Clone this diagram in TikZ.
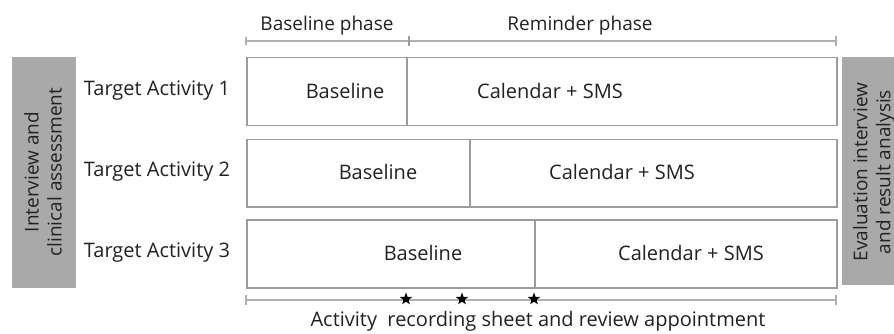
\documentclass[tikz,border=0pt]{standalone}
\usepackage{fontspec}
\setmainfont{Open Sans}
\usetikzlibrary{shapes.geometric}
\definecolor{txt}{HTML}{222222}
\definecolor{boxline}{HTML}{9C9C9C}
\definecolor{phaseline}{HTML}{B0B0B0}
\definecolor{sidegray}{HTML}{A9A9A9}
\begin{document}
\begin{tikzpicture}[x=1pt,y=-1pt,
  cell/.style={draw=boxline, line width=1.5pt, anchor=north west, inner sep=0pt, minimum height=68pt},
  lbl/.style={text=txt, font=\fontsize{20}{22}\selectfont, inner sep=0pt},
  phlbl/.style={text=txt, font=\fontsize{19}{21}\selectfont, inner sep=0pt},
  side/.style={fill=sidegray, anchor=north west, inner sep=0pt},
  sidetxt/.style={text=txt, font=\fontsize{19}{23}\selectfont, align=center, rotate=90, inner sep=0pt},
  pline/.style={draw=phaseline, line width=1.3pt},
  tick/.style={draw=phaseline, line width=1.3pt},
  starmark/.style={star, star points=5, star point ratio=2.4, fill=black, minimum size=13pt, inner sep=0pt}
]
\useasboundingbox[fill=white] (0,0) rectangle (894,334);

% side boxes
\node[side, minimum width=64pt, minimum height=231pt] (left) at (12,57) {};
\node[sidetxt] (lefttxt) at (43,172) {Interview and\\clinical assessment};
\node[side, minimum width=52pt, minimum height=228pt] (right) at (842,57) {};
\node[sidetxt] (righttxt) at (874,172) {Evaluation interview\\and result analysis};

% row labels
\node[lbl] (ta1) at (157,91) {Target Activity 1};
\node[lbl] (ta2) at (157,172) {Target Activity 2};
\node[lbl] (ta3) at (157,253) {Target Activity 3};

% cells
\node[cell, minimum width=160pt] (b1) at (246,57) {};
\node[cell, minimum width=430pt] (c1) at (406,57) {};
\node[cell, minimum width=223pt, minimum height=67pt] (b2) at (246,139) {};
\node[cell, minimum width=367pt, minimum height=67pt] (c2) at (469,139) {};
\node[cell, minimum width=288pt] (b3) at (246,219) {};
\node[cell, minimum width=302pt] (c3) at (534,219) {};

\node[lbl] (b1t) at (345,91) {Baseline};
\node[lbl] (c1t) at (550,91) {Calendar + SMS};
\node[lbl] (b2t) at (378,172) {Baseline};
\node[lbl] (c2t) at (622,172) {Calendar + SMS};
\node[lbl] (b3t) at (423,253) {Baseline};
\node[lbl] (c3t) at (691,253) {Calendar + SMS};

% phase line
\coordinate (p0) at (246,41);
\coordinate (p1) at (409,41);
\coordinate (p2) at (836,41);
\draw[pline] (p0) -- (p2);
\draw[tick] ([yshift=-4pt]p0) -- ([yshift=4pt]p0);
\draw[draw=boxline, line width=2pt] ([yshift=-5pt]p1) -- ([yshift=5pt]p1);
\draw[tick] ([yshift=-5pt]p2) -- ([yshift=5pt]p2);
\node[phlbl] (bp) at (327,26) {Baseline phase};
\node[phlbl] (rp) at (580,26) {Reminder phase};

% bottom line
\coordinate (q0) at (246,300);
\coordinate (q1) at (836,300);
\draw[pline] (q0) -- (q1);
\draw[tick] ([yshift=-5pt]q0) -- ([yshift=5pt]q0);
\draw[tick] ([yshift=-5pt]q1) -- ([yshift=5pt]q1);
\node[starmark] (s1) at (406,299) {};
\node[starmark] (s2) at (462,299) {};
\node[starmark] (s3) at (534,299) {};
\node[lbl] (act) at (538,321) {Activity\ \ recording sheet and review appointment};
\end{tikzpicture}
\end{document}
